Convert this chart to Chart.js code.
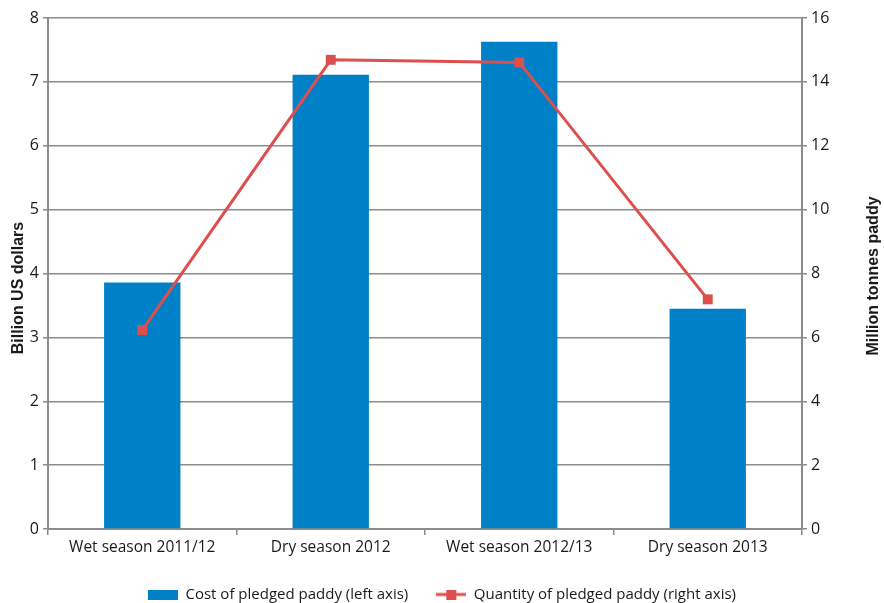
<!DOCTYPE html>
<html>
<head>
<meta charset="utf-8">
<script src="https://cdn.jsdelivr.net/npm/chart.js@4"></script>
<style>
  html, body { margin: 0; padding: 0; background: #fff; }
  #wrap { width: 884px; height: 603px; position: relative; }
</style>
</head>
<body>
<div id="wrap"><canvas id="chart" width="884" height="603"></canvas></div>
<script>
const seasons = ['Wet season 2011/12', 'Dry season 2012', 'Wet season 2012/13', 'Dry season 2013'];
const costBillionUsd = [3.86, 7.11, 7.63, 3.45];
const quantityMillionTonnes = [6.23, 14.69, 14.61, 7.19];
const leftTicks = [0, 1, 2, 3, 4, 5, 6, 7, 8];
const rightTicks = [0, 2, 4, 6, 8, 10, 12, 14, 16];

const BLUE = '#0081c7';
const RED = '#dc4f4f';
const AXIS_GREY = '#8c8c8c';
const TEXT = '#1a1a1a';
const FONT = '"Open Sans", "Noto Sans", sans-serif';
const TITLE_FONT = 'bold 16px "Liberation Sans", Arial, sans-serif';

// little images used as legend symbols
function barSymbol() {
  const c = document.createElement('canvas');
  c.width = 30; c.height = 10;
  const g = c.getContext('2d');
  g.fillStyle = BLUE;
  g.fillRect(0, 0, 30, 10);
  return c;
}
function lineSymbol() {
  const c = document.createElement('canvas');
  c.width = 30; c.height = 10;
  const g = c.getContext('2d');
  g.strokeStyle = RED;
  g.lineWidth = 3;
  g.beginPath(); g.moveTo(0, 5); g.lineTo(30, 5); g.stroke();
  g.fillStyle = RED;
  g.fillRect(10, 0, 10, 10);
  return c;
}

function drawRotated(ctx, text, x, y) {
  ctx.save();
  ctx.fillStyle = TEXT;
  ctx.font = TITLE_FONT;
  ctx.textAlign = 'center';
  ctx.textBaseline = 'middle';
  ctx.translate(x, y);
  ctx.rotate(-Math.PI / 2);
  ctx.fillText(text, 0, 0);
  ctx.restore();
}

const axisTitles = {
  id: 'axisTitles',
  afterDraw(chart) {
    drawRotated(chart.ctx, 'Billion US dollars', 19, 288);
    drawRotated(chart.ctx, 'Million tonnes paddy', 874, 276);
  }
};

const symbols = [barSymbol(), lineSymbol()];

new Chart(document.getElementById('chart'), {
  data: {
    labels: seasons,
    datasets: [
      {
        type: 'line',
        label: 'Quantity of pledged paddy (right axis)',
        data: quantityMillionTonnes,
        yAxisID: 'y2',
        borderColor: RED,
        backgroundColor: RED,
        borderWidth: 3,
        pointStyle: 'rect',
        pointRadius: 7,
        pointBorderWidth: 0,
        tension: 0,
        order: 0
      },
      {
        type: 'bar',
        label: 'Cost of pledged paddy (left axis)',
        data: costBillionUsd,
        yAxisID: 'y',
        backgroundColor: BLUE,
        barPercentage: 0.81,
        categoryPercentage: 0.5,
        order: 1
      }
    ]
  },
  options: {
    responsive: false,
    animation: false,
    layout: { padding: { top: 18, right: 0, left: 0, bottom: 0 } },
    plugins: {
      tooltip: { enabled: false },
      legend: {
        position: 'bottom',
        maxHeight: 44,
        labels: {
          usePointStyle: true,
          pointStyleWidth: 30,
          padding: 28,
          color: TEXT,
          font: { family: FONT, size: 15 },
          generateLabels(chart) {
            return [
              { text: 'Cost of pledged paddy (left axis)', pointStyle: symbols[0], datasetIndex: 1, fontColor: TEXT, lineWidth: 0 },
              { text: 'Quantity of pledged paddy (right axis)', pointStyle: symbols[1], datasetIndex: 0, fontColor: TEXT, lineWidth: 0 }
            ];
          }
        }
      }
    },
    scales: {
      x: {
        offset: true,
        grid: { offset: true, drawOnChartArea: false, drawTicks: true, tickLength: 6, color: AXIS_GREY, lineWidth: 1.5 },
        border: { color: AXIS_GREY, width: 2 },
        ticks: { color: TEXT, font: { family: FONT, size: 15.5 }, padding: 3, maxRotation: 0 },
        afterFit(scale) { scale.height = 30; }
      },
      y: {
        position: 'left',
        min: 0, max: 8,
        afterBuildTicks(scale) { scale.ticks = leftTicks.map(v => ({ value: v })); },
        grid: { color: AXIS_GREY, lineWidth: 1.5, tickLength: 5 },
        border: { color: AXIS_GREY, width: 2 },
        ticks: { color: TEXT, font: { family: FONT, size: 16 }, padding: 4 },
        afterFit(scale) { scale.width = 48; }
      },
      y2: {
        position: 'right',
        min: 0, max: 16,
        afterBuildTicks(scale) { scale.ticks = rightTicks.map(v => ({ value: v })); },
        grid: { drawOnChartArea: false, color: AXIS_GREY, lineWidth: 1.5, tickLength: 5 },
        border: { color: AXIS_GREY, width: 2 },
        ticks: { color: TEXT, font: { family: FONT, size: 16 }, padding: 4 },
        afterFit(scale) { scale.width = 82; }
      }
    }
  },
  plugins: [axisTitles]
});
</script>
</body>
</html>
